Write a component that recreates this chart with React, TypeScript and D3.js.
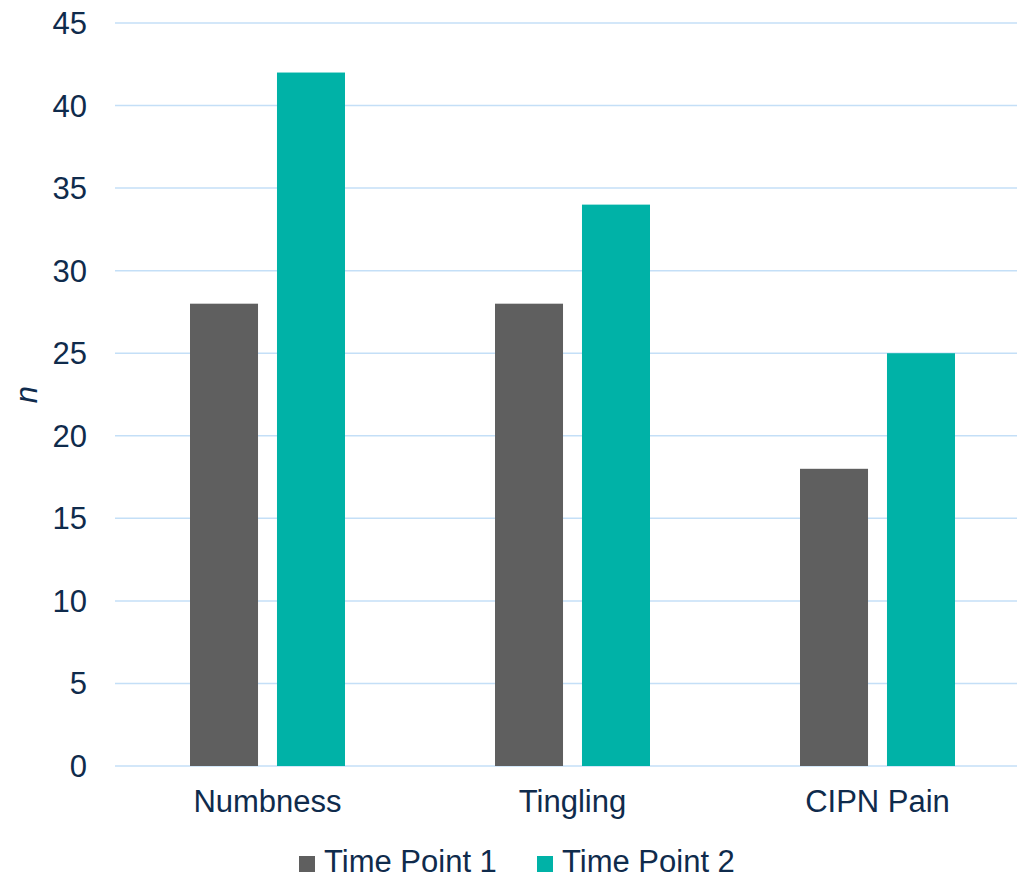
import React, { useEffect, useRef } from "react";
import * as d3 from "d3";

// Chart data
const categories = ["Numbness", "Tingling", "CIPN Pain"];
const seriesNames = ["Time Point 1", "Time Point 2"];
const timePoint1 = [28, 28, 18];
const timePoint2 = [42, 34, 25];
const yTicks = [0, 5, 10, 15, 20, 25, 30, 35, 40, 45];

const seriesColors = ["#5f5f5f", "#00b2a7"];
const textColor = "#0f2b4c";
const gridColor = "#c4dff7";
const fontFamily = "'Liberation Sans', Arial, sans-serif";

const W = 1017;
const H = 878;

export default function App() {
  const ref = useRef<SVGSVGElement | null>(null);

  useEffect(() => {
    const svg = d3.select(ref.current);
    svg.selectAll("*").remove();

    const left = 115;
    const right = 1030;
    const top = 23;
    const bottom = 766;

    const x = d3.scaleBand<string>().domain(categories).range([left, right]).padding(0);
    const y = d3.scaleLinear().domain([0, 45]).range([bottom, top]);

    // Gridlines
    svg
      .append("g")
      .selectAll("line")
      .data(yTicks)
      .join("line")
      .attr("x1", left)
      .attr("x2", right)
      .attr("y1", (d) => y(d))
      .attr("y2", (d) => y(d))
      .attr("stroke", gridColor)
      .attr("stroke-width", 1.5);

    // Y tick labels
    svg
      .append("g")
      .selectAll("text")
      .data(yTicks)
      .join("text")
      .attr("x", 87)
      .attr("y", (d) => y(d) + 11)
      .attr("text-anchor", "end")
      .attr("font-family", fontFamily)
      .attr("font-size", 31)
      .attr("fill", textColor)
      .text((d) => String(d));

    // Bars
    const rows = categories.map((c, i) => ({
      category: c,
      values: [timePoint1[i], timePoint2[i]],
    }));

    const groups = svg
      .append("g")
      .selectAll("g")
      .data(rows)
      .join("g");

    groups.each(function (row) {
      const center = (x(row.category) as number) + x.bandwidth() / 2;
      const inner = d3
        .scaleBand<number>()
        .domain([0, 1])
        .range([center - 77.5, center + 77.5])
        .paddingInner(0.218)
        .paddingOuter(0);
      d3.select(this)
        .selectAll("rect")
        .data(row.values.map((v, k) => ({ v, k })))
        .join("rect")
        .attr("x", (d) => inner(d.k) as number)
        .attr("width", inner.bandwidth())
        .attr("y", (d) => y(d.v))
        .attr("height", (d) => y(0) - y(d.v))
        .attr("fill", (d) => seriesColors[d.k]);
    });

    // Category labels
    svg
      .append("g")
      .selectAll("text")
      .data(categories)
      .join("text")
      .attr("x", (d) => (x(d) as number) + x.bandwidth() / 2)
      .attr("y", 812)
      .attr("text-anchor", "middle")
      .attr("font-family", fontFamily)
      .attr("font-size", 31)
      .attr("fill", textColor)
      .text((d) => d);

    // Y axis title
    svg
      .append("text")
      .attr("transform", `translate(37, ${(top + bottom) / 2}) rotate(-90)`)
      .attr("text-anchor", "middle")
      .attr("font-family", fontFamily)
      .attr("font-style", "italic")
      .attr("font-size", 31)
      .attr("fill", textColor)
      .text("n");

    // Legend
    const legendX = [299, 537];
    const legend = svg
      .append("g")
      .selectAll("g")
      .data(seriesNames)
      .join("g")
      .attr("transform", (_, i) => `translate(${legendX[i]}, 856)`);
    legend
      .append("rect")
      .attr("width", 16)
      .attr("height", 16)
      .attr("fill", (_, i) => seriesColors[i]);
    legend
      .append("text")
      .attr("x", 25)
      .attr("y", 16)
      .attr("font-family", fontFamily)
      .attr("font-size", 31)
      .attr("fill", textColor)
      .text((d) => d);
  }, []);

  return (
    <svg
      ref={ref}
      width={W}
      height={H}
      style={{ position: "absolute", left: 0, top: 0, background: "#ffffff" }}
    />
  );
}
